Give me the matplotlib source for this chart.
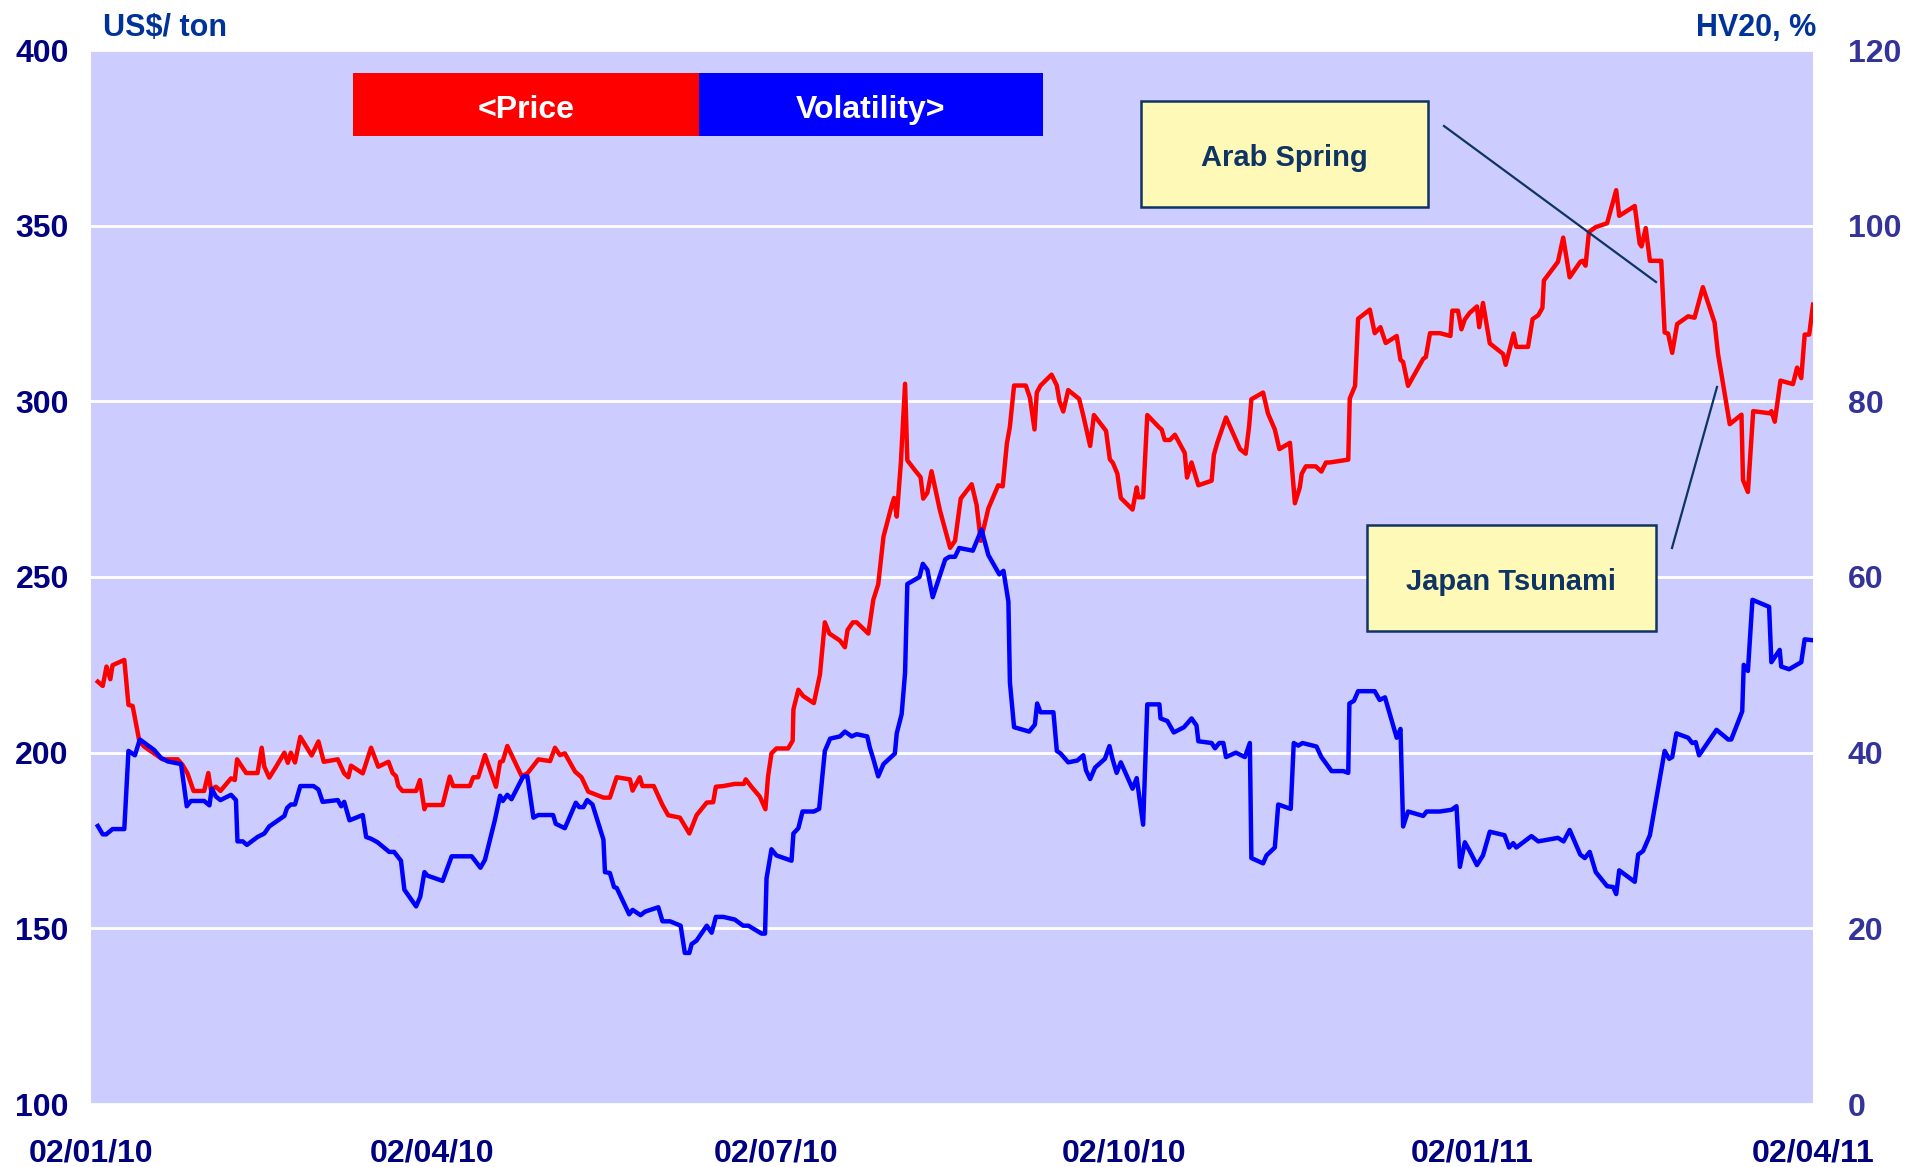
import matplotlib
matplotlib.use('Agg')
import matplotlib.pyplot as plt
import pandas as pd
from matplotlib.patches import Rectangle
from matplotlib.lines import Line2D

plt.rcParams['font.family'] = ['Liberation Sans', 'DejaVu Sans']
plt.rcParams['font.weight'] = 'bold'

# ---------------- data ----------------
start_date = '2010-01-02'
end_date = '2011-04-02'

price_days = [
    1.8, 3.1, 4.1, 5.1, 5.7, 8.8, 9.9, 11.0, 12.8, 14.1, 18.9, 22.9, 24.2, 25.5, 27.1, 29.9,
    31.0, 31.7, 33.0, 34.2, 37.0, 38.0, 38.6, 41.0, 44.0, 45.1, 45.8, 47.1, 48.9, 51.1, 52.0,
    52.8, 53.9, 55.3, 58.3, 60.1, 61.5, 65.2, 66.9, 68.0, 68.7, 71.8, 74.0, 75.9, 78.6, 79.7,
    80.6, 81.2, 82.3, 85.9, 86.9, 88.1, 88.5, 92.9,
    94.8, 95.7, 100.1, 101.0, 102.3, 104.1, 107.0, 108.1, 108.8, 110.0, 113.8, 115.3, 118.2,
    121.3, 122.6, 123.9, 125.2, 127.9, 129.6, 131.4, 135.4, 137.1, 138.9, 142.4, 143.1, 145.0,
    145.7, 148.7, 151.0, 152.5, 155.6, 158.1, 160.0, 162.7, 164.4, 165.1, 167.1, 170.1, 172.5,
    173.0, 174.5, 176.7, 178.2, 178.9, 179.8, 181.1, 184.2, 185.4,
    185.6, 186.9, 188.2, 191.0, 192.6, 193.9, 195.1, 197.9, 199.2, 199.9, 201.3, 202.3, 205.4,
    206.7, 208.0, 209.4, 211.6, 212.2, 212.9, 214.0, 215.1, 215.7, 217.7, 219.2, 219.9, 221.0,
    222.1, 224.3, 227.0, 228.3, 229.8, 232.7, 234.0, 235.1, 237.1, 239.7, 240.9, 242.0, 242.8,
    243.9, 247.0, 248.1, 249.3, 249.9, 250.9, 253.8, 255.2, 255.9, 256.9, 258.2, 261.1, 262.2,
    264.0, 265.0, 268.2, 269.2, 270.0, 271.2, 272.1, 275.2, 276.3, 276.7, 278.0,
    279.1, 282.4, 282.9, 283.7, 285.1, 286.4, 287.7, 289.0, 289.6, 290.8, 292.6, 296.1, 296.7,
    297.6, 299.9, 303.6, 305.1, 306.0, 306.6, 309.7, 311.0, 312.8, 314.0, 316.8, 318.1, 319.4,
    319.9, 321.0, 323.6, 325.1, 326.3, 327.3, 332.2, 332.6, 334.0, 334.8, 337.9, 339.2, 340.7,
    342.1, 345.0, 346.0, 346.7, 348.0, 352.0, 352.7, 353.8, 356.4, 359.2, 359.7, 361.2, 362.1,
    363.0,
    364.3, 366.2, 366.8, 367.8, 369.6, 373.1, 373.8, 375.9, 376.6, 379.7, 380.9, 382.4, 383.5,
    383.9, 387.6, 389.0, 390.7, 393.5, 394.1, 394.9, 395.8, 397.6, 400.6, 403.0, 403.8, 407.9,
    409.2, 409.7, 410.8, 411.9, 414.9, 415.8, 416.7, 417.8, 419.1, 422.0, 423.7, 425.9, 429.0,
    429.9, 431.2, 433.0, 436.1, 436.5, 437.8, 439.2, 443.6, 444.0, 444.9, 446.4, 449.7, 450.8,
    451.9, 452.8, 454.0, 455.0,
]
price_values = [
    220.2, 219.0, 224.5, 220.9, 224.9, 226.4, 213.6, 213.3, 203.1, 201.7, 198.1, 198.1, 196.5,
    194.1, 189.1, 189.1, 194.2, 189.4, 190.3, 189.1, 192.7, 192.2, 198.1, 194.2, 194.2, 201.4,
    196.0, 192.9, 196.0, 200.0, 197.1, 200.0, 197.2, 204.5, 199.2, 203.2, 197.4, 198.1, 194.1,
    193.0, 196.3, 194.1, 201.4, 196.0, 197.4, 194.2, 193.3, 190.5, 189.1, 189.1, 192.2, 183.9,
    185.1, 185.1,
    193.2, 190.5, 190.5, 193.0, 193.0, 199.3, 190.3, 197.4, 197.6, 201.9, 193.3, 194.1, 198.1,
    197.6, 201.4, 199.3, 199.8, 194.6, 193.0, 188.9, 187.2, 187.2, 193.0, 192.4, 189.2, 193.0,
    190.5, 190.5, 185.1, 182.2, 181.5, 177.0, 182.2, 185.8, 185.9, 190.3, 190.5, 191.1, 191.1,
    192.4, 190.3, 187.5, 183.9, 193.3, 199.8, 201.2, 201.2, 203.4,
    212.3, 217.9, 216.1, 214.1, 222.2, 237.1, 233.9, 231.9, 230.0, 234.9, 237.1, 237.1, 233.9,
    243.5, 247.9, 261.5, 270.5, 272.5, 267.2, 282.7, 305.0, 283.2, 280.4, 278.4, 272.3, 274.0,
    280.1, 269.0, 258.3, 260.3, 272.3, 276.4, 270.5, 260.3, 269.5, 276.1, 275.8, 288.0, 292.8,
    304.5, 304.5, 301.0, 292.0, 302.5, 304.5, 307.6, 304.5, 300.0, 297.1, 303.2, 300.7, 295.9,
    287.3, 296.1, 291.6, 283.5, 282.5, 279.4, 272.5, 269.2, 275.5, 272.7, 272.7,
    296.1, 292.4, 292.0, 289.0, 289.0, 290.5, 287.9, 285.3, 278.3, 282.6, 276.1, 277.4, 284.8,
    288.2, 295.4, 286.4, 285.1, 292.9, 300.6, 302.5, 296.5, 292.0, 286.4, 288.2, 271.0, 275.5,
    279.4, 281.5, 281.5, 280.0, 282.6, 282.6, 283.4, 300.8, 304.4, 323.5, 326.1, 319.4, 321.1,
    316.6, 318.6, 311.8, 311.2, 304.4, 312.1, 312.6, 319.4, 319.4, 318.6, 325.8, 325.8, 320.5,
    323.3,
    325.2, 327.0, 321.1, 328.0, 316.5, 313.5, 310.4, 319.3, 315.5, 315.5, 323.4, 324.5, 326.6,
    334.4, 339.7, 346.6, 335.3, 339.7, 340.0, 338.6, 348.2, 349.6, 350.7, 360.1, 352.8, 355.6,
    344.9, 344.1, 349.3, 340.0, 340.0, 319.6, 319.3, 313.8, 322.0, 324.2, 323.8, 332.5, 322.4,
    313.5, 305.2, 293.5, 296.2, 277.6, 274.2, 297.2, 296.6, 297.2, 294.2, 305.9, 304.9, 309.6,
    306.6, 319.0, 319.0, 327.5,
]

vol_days = [
    1.8, 3.1, 4.0, 5.7, 8.8, 9.9, 11.6, 12.9, 16.7, 18.5, 20.3, 23.8, 25.3, 26.4, 29.9, 31.3,
    31.9, 33.0, 34.2, 37.0, 38.3, 38.7, 40.1, 41.2, 44.0, 45.8, 47.1, 51.1, 51.8, 52.8, 53.9,
    55.3, 58.8, 60.1, 61.2, 65.2, 66.1, 66.9, 68.3, 71.8, 72.7, 74.0, 75.7, 78.8, 80.1, 81.9,
    82.8, 85.9, 87.0, 88.1, 88.9, 92.9,
    95.3, 100.6, 102.9, 104.1, 106.7, 108.1, 108.8, 110.0, 111.1, 114.2, 115.3, 116.9, 118.2,
    122.1, 122.8, 125.2, 128.1, 129.0, 130.1, 131.1, 132.5, 135.4, 135.8, 137.1, 138.2, 138.9,
    142.2, 143.1, 145.2, 146.4, 149.9, 151.0, 153.0, 155.8, 156.9, 158.1, 158.7, 160.0, 162.7,
    164.0, 165.1, 167.1, 170.1, 172.3, 173.7, 177.2, 178.1, 178.5, 179.8, 181.1, 185.1,
    185.6, 186.9, 188.0, 191.0, 192.4, 193.9, 195.3, 197.9, 199.2, 201.0, 202.3, 205.1, 205.8,
    206.7, 208.0, 209.4, 212.4, 212.9, 214.2, 215.1, 215.7, 218.9, 219.8, 221.0, 222.4, 225.7,
    226.8, 228.3, 229.4, 233.0, 235.3, 237.1, 240.0, 241.1, 242.4, 242.8, 243.9, 247.9, 249.4,
    250.0, 250.9, 254.3, 255.2, 256.2, 258.2, 260.6, 262.2, 262.9, 264.0, 265.3, 267.9, 269.1,
    269.9, 271.0, 272.1, 275.2, 276.3, 278.0,
    279.1, 282.3, 282.6, 284.4, 286.1, 288.8, 290.8, 292.1, 292.6, 296.1, 297.0, 298.1, 299.2,
    299.9, 302.5, 304.9, 306.2, 306.6, 309.7, 310.6, 312.8, 313.7, 317.0, 317.8, 319.0, 320.1,
    323.8, 325.1, 327.8, 330.9, 332.2, 332.5, 333.7, 334.8, 339.2, 340.5, 341.9, 345.0, 346.0,
    346.7, 348.0, 352.0, 352.9, 356.4, 359.5, 360.8, 361.7, 363.0,
    364.3, 366.2, 367.8, 369.6, 373.5, 374.7, 375.8, 376.6, 380.6, 382.4, 387.6, 389.1, 390.7,
    393.5, 394.7, 396.0, 397.6, 400.6, 402.2, 403.0, 403.8, 407.9, 408.8, 410.1, 411.9, 415.8,
    417.0, 417.8, 418.9, 422.0, 423.1, 424.0, 424.9, 429.5, 432.6, 433.4, 436.3, 436.7, 437.8,
    439.0, 443.4, 444.0, 446.2, 446.6, 448.7, 451.9, 452.8, 455.0,
]
vol_values = [
    31.65, 30.7, 30.7, 31.3, 31.3, 40.2, 39.7, 41.5, 40.3, 39.4, 39.0, 38.7, 33.9, 34.5, 34.5,
    34.0, 35.9, 35.0, 34.6, 35.2, 34.6, 29.9, 29.9, 29.5, 30.4, 30.8, 31.6, 32.8, 33.7, 34.1,
    34.1, 36.2, 36.2, 35.8, 34.4, 34.6, 33.9, 34.4, 32.3, 32.9, 30.4, 30.2, 29.8, 28.7, 28.7,
    27.7, 24.4, 22.5, 23.6, 26.4, 26.0, 25.4,
    28.2, 28.2, 26.9, 27.8, 32.3, 35.1, 34.5, 35.2, 34.7, 37.3, 37.3, 32.6, 32.9, 32.9, 31.9,
    31.4, 34.3, 33.8, 33.8, 34.6, 34.1, 30.1, 26.4, 26.3, 24.7, 24.6, 21.6, 22.1, 21.5, 21.9,
    22.4, 20.8, 20.8, 20.3, 17.2, 17.2, 18.2, 18.6, 20.3, 19.5, 21.3, 21.3, 21.0, 20.3, 20.3,
    19.4, 19.4, 25.7, 29.0, 28.3, 27.7,
    30.8, 31.4, 33.3, 33.3, 33.6, 40.2, 41.6, 41.85, 42.4, 41.85, 42.1, 41.85, 40.55, 39.3,
    37.3, 38.7, 39.9, 42.2, 44.4, 49.1, 59.2, 60.0, 61.5, 60.8, 57.7, 62.0, 62.3, 62.3, 63.3,
    63.0, 65.4, 62.5, 60.3, 60.7, 57.2, 48.0, 42.9, 42.4, 43.2, 45.6, 44.6, 44.6, 40.2, 39.9,
    38.9, 39.1, 39.7, 38.0, 37.0, 38.3, 39.3, 40.75, 39.3, 37.7, 38.9, 35.9, 37.1, 31.8,
    45.5, 45.5, 43.9, 43.6, 42.3, 42.9, 43.9, 43.1, 41.3, 41.1, 40.5, 41.1, 41.1, 39.5, 40.0,
    39.5, 41.1, 28.0, 27.4, 28.3, 29.2, 34.1, 33.6, 41.1, 40.8, 41.1, 40.7, 39.5, 37.9, 37.9,
    37.7, 45.6, 45.9, 47.0, 47.0, 46.0, 46.3, 41.7, 42.7, 31.6, 33.3, 32.8, 33.3, 33.3, 33.5,
    33.9, 27.0, 29.8,
    28.8, 27.2, 28.3, 31.0, 30.6, 29.2, 29.7, 29.2, 30.5, 29.9, 30.3, 29.9, 31.2, 28.4, 28.0,
    28.7, 26.4, 24.8, 24.7, 23.9, 26.6, 25.3, 28.4, 28.8, 30.6, 40.2, 39.3, 39.5, 42.2, 41.7,
    41.1, 41.2, 39.7, 42.6, 41.5, 41.5, 44.7, 50.0, 49.3, 57.4, 56.6, 50.3, 51.7, 49.8, 49.5,
    50.3, 52.9, 52.8,
]

tick_dates = ['2010-01-02', '2010-04-02', '2010-07-02', '2010-10-02', '2011-01-02', '2011-04-02']
tick_labels = ['02/01/10', '02/04/10', '02/07/10', '02/10/10', '02/01/11', '02/04/11']
price_ticks = [100, 150, 200, 250, 300, 350, 400]
vol_ticks = [0, 20, 40, 60, 80, 100, 120]

legend_labels = ['<Price', 'Volatility>']
event_labels = ['Arab Spring', 'Japan Tsunami']

# ---------------- figure ----------------
W, H = 1909, 1167
fig = plt.figure(figsize=(W / 100, H / 100), dpi=100)
fig.patch.set_facecolor('white')


def fx(x):
    return x / W


def fy(y):
    return 1 - y / H


ax = fig.add_axes([fx(91), fy(1104), (1813 - 91) / W, (1104 - 50) / H])
ax.set_facecolor('#CCCCFF')
ax2 = ax.twinx()

t0 = pd.Timestamp(start_date)
px = t0 + pd.to_timedelta(price_days, unit='D')
vx = t0 + pd.to_timedelta(vol_days, unit='D')

ax.plot(px, price_values, color='#FF0000', lw=3.2, solid_joinstyle='round', zorder=3)
ax2.plot(vx, vol_values, color='#0000FF', lw=3.2, solid_joinstyle='round', zorder=3)

ax.set_xlim(pd.Timestamp(start_date), pd.Timestamp(end_date))
ax.set_ylim(price_ticks[0], price_ticks[-1])
ax2.set_ylim(vol_ticks[0], vol_ticks[-1])

ax.set_yticks(price_ticks)
ax.set_yticklabels([str(v) for v in price_ticks])
ax2.set_yticks(vol_ticks)
ax2.set_yticklabels([str(v) for v in vol_ticks])
ax.set_xticks([pd.Timestamp(d) for d in tick_dates])
ax.set_xticklabels(tick_labels)

ax.grid(axis='y', color='white', lw=2.0)
ax.grid(axis='x', visible=False)
ax.set_axisbelow(True)
ax2.grid(False)

for a in (ax, ax2):
    for s in a.spines.values():
        s.set_visible(False)

ax.tick_params(axis='y', length=0, pad=16, labelsize=23, labelcolor='#000080')
ax.tick_params(axis='x', length=0, pad=25, labelsize=23, labelcolor='#000080')
ax2.tick_params(axis='y', length=0, pad=25, labelsize=23, labelcolor='#333399')
for lab in ax.get_xticklabels() + ax.get_yticklabels() + ax2.get_yticklabels():
    lab.set_fontweight('bold')

# axis titles
fig.text(fx(103), fy(28), 'US$/ ton', color='#003399', fontsize=22,
         fontweight='bold', ha='left', va='center')
fig.text(fx(1816), fy(28), 'HV20, %', color='#003399', fontsize=22,
         fontweight='bold', ha='right', va='center')

# legend boxes
leg_colors = ['#FF0000', '#0000FF']
leg_x = [353, 699, 1043]
for i in range(2):
    fig.add_artist(Rectangle((fx(leg_x[i]), fy(136)), (leg_x[i + 1] - leg_x[i]) / W, 63 / H,
                             transform=fig.transFigure, facecolor=leg_colors[i],
                             edgecolor='none', zorder=5))
    fig.text(fx((leg_x[i] + leg_x[i + 1]) / 2), fy(110), legend_labels[i], color='white',
             fontsize=23, fontweight='bold', ha='center', va='center', zorder=6)

# event annotations
box_fc = '#FFF9B8'
box_ec = '#0E3463'
boxes = [(1141, 101, 1428, 207), (1367, 525, 1656, 631)]
lines = [((1444, 126), (1656, 282)), ((1717, 387), (1672, 548))]
for (x0, y0, x1, y1), lab in zip(boxes, event_labels):
    fig.add_artist(Rectangle((fx(x0), fy(y1)), (x1 - x0) / W, (y1 - y0) / H,
                             transform=fig.transFigure, facecolor=box_fc,
                             edgecolor=box_ec, lw=1.8, zorder=5))
    fig.text(fx((x0 + x1) / 2), fy((y0 + y1) / 2 + 4), lab, color='#0E3463', fontsize=21,
             fontweight='bold', ha='center', va='center', zorder=6)
for (p0, p1) in lines:
    fig.add_artist(Line2D([fx(p0[0]), fx(p1[0])], [fy(p0[1]), fy(p1[1])],
                          transform=fig.transFigure, color='#0E3463', lw=1.6, zorder=5))

fig.savefig('out.png', dpi=100, facecolor='white')
